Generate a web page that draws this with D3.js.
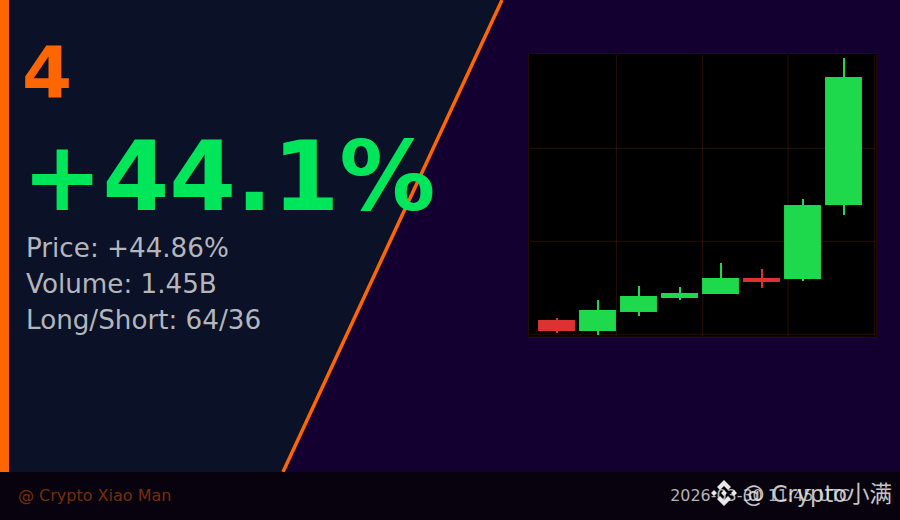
<!DOCTYPE html>
<html>
<head>
<meta charset="utf-8">
<script src="https://cdnjs.cloudflare.com/ajax/libs/d3/7.9.0/d3.min.js"></script>
<style>
  html, body { margin: 0; padding: 0; background: #140030; }
  svg { display: block; font-family: "DejaVu Sans", sans-serif; }
</style>
</head>
<body>
<div id="container"></div>
<script>
// candle values
const candleIndex = [0, 1, 2, 3, 4, 5, 6, 7];
const opens = [103.08, 100.71, 104.8, 107.81, 108.67, 112.11, 111.89, 127.8];
const closes = [100.71, 105.23, 108.24, 108.88, 112.11, 111.25, 127.8, 155.33];
const highs = [103.5, 107.38, 110.39, 110.17, 115.33, 114.04, 129.1, 159.42];
const lows = [100.28, 99.85, 103.94, 107.38, 108.67, 109.96, 111.46, 125.66];
const yTicks = [100, 120, 140];
const xTicks = [1.46, 3.56, 5.65, 7.75];

const rankLabel = "4";
const changeLabel = "+44.1%";
const statLines = ["Price: +44.86%", "Volume: 1.45B", "Long/Short: 64/36"];
const handleLabel = "@ Crypto Xiao Man";
const dateLabel = "2026-03-30 11:45 UTC";
const watermarkLabel = "@ Crypto小满";

const width = 900;
const height = 520;
const orange = "#ff6600";

const svg = d3
  .select("#container")
  .append("svg")
  .attr("width", width)
  .attr("height", height);

// backgrounds
svg.append("rect").attr("width", width).attr("height", height).attr("fill", "#140030");
svg.append("polygon").attr("points", "0,0 502,0 283,472 0,472").attr("fill", "#0b1126");
svg.append("line")
  .attr("x1", 502).attr("y1", 0).attr("x2", 283).attr("y2", 472)
  .attr("stroke", orange).attr("stroke-width", 3.5);
svg.append("rect").attr("width", 9).attr("height", 472).attr("fill", orange);
svg.append("rect").attr("y", 472).attr("width", width).attr("height", 48).attr("fill", "#08020f");

// left text
svg.append("text").attr("x", 22).attr("y", 97)
  .attr("font-size", 72).attr("font-weight", "bold").attr("fill", orange).text(rankLabel);
svg.append("text").attr("x", 22).attr("y", 210)
  .attr("font-size", 96).attr("font-weight", "bold").attr("fill", "#00e65a").text(changeLabel);
svg.selectAll(".stat")
  .data(statLines)
  .enter()
  .append("text")
  .attr("class", "stat")
  .attr("x", 26)
  .attr("y", (d, i) => 257 + i * 36)
  .attr("font-size", 26.2)
  .attr("fill", "#b4b6bc")
  .text((d) => d);

// footer
svg.append("text").attr("x", 18).attr("y", 501)
  .attr("font-size", 16).attr("fill", orange).attr("fill-opacity", 0.45).text(handleLabel);
svg.append("text").attr("x", 850).attr("y", 501).attr("text-anchor", "end")
  .attr("font-size", 15.9).attr("fill", "#b4b4b4").text(dateLabel);

// candles
const xScale = d3.scaleLinear().domain([-0.695, 7.817]).range([528, 877]);
const yScale = d3.scaleLinear().domain([100, 140]).range([334.3, 148.3]);
const bodyWidth = xScale(0.9) - xScale(0);
const chartBottom = 337;

svg.append("rect")
  .attr("x", xScale.range()[0]).attr("y", 53)
  .attr("width", xScale.range()[1] - xScale.range()[0]).attr("height", chartBottom - 53)
  .attr("fill", "#000");

const grid = svg.append("g").attr("stroke", orange).attr("stroke-opacity", 0.15);
grid.selectAll(".gy").data(yTicks).enter().append("line")
  .attr("x1", 530).attr("x2", 875)
  .attr("y1", (d) => yScale(d)).attr("y2", (d) => yScale(d));
grid.selectAll(".gx").data(xTicks).enter().append("line")
  .attr("y1", 55).attr("y2", 336)
  .attr("x1", (d) => xScale(d)).attr("x2", (d) => xScale(d));

svg.append("rect")
  .attr("x", 528.5).attr("y", 53.5).attr("width", 348).attr("height", 283.5)
  .attr("fill", "none").attr("stroke", orange).attr("stroke-opacity", 0.12);

const candleColor = (i) => (closes[i] >= opens[i] ? "#1ed94b" : "#dc3232");

svg.selectAll(".wick").data(candleIndex).enter().append("rect")
  .attr("class", "wick")
  .attr("x", (i) => xScale(i) - 1 + 0.5)
  .attr("y", (i) => yScale(highs[i]))
  .attr("width", 2)
  .attr("height", (i) => yScale(lows[i]) - yScale(highs[i]))
  .attr("fill", candleColor);

svg.selectAll(".body").data(candleIndex).enter().append("rect")
  .attr("class", "body")
  .attr("x", (i) => xScale(i) - bodyWidth / 2)
  .attr("y", (i) => yScale(Math.max(opens[i], closes[i])))
  .attr("width", bodyWidth)
  .attr("height", (i) => Math.abs(yScale(opens[i]) - yScale(closes[i])))
  .attr("fill", candleColor);

// watermark: small diamond mark and handle
const mark = svg.append("g").attr("transform", "translate(724,493)").attr("fill", "#e8e8e8");
mark.append("path")
  .attr("d", "M0,-13 L7,-6 L4,-3 L0,-7 L-4,-3 L-7,-6 Z M0,13 L7,6 L4,3 L0,7 L-4,3 L-7,6 Z M0,-3 L3,0 L0,3 L-3,0 Z M-10,-3 L-7,0 L-10,3 L-13,0 Z M10,-3 L13,0 L10,3 L7,0 Z");
svg.append("text").attr("x", 892).attr("y", 502).attr("text-anchor", "end")
  .attr("font-family", "'DejaVu Sans','Noto Sans CJK SC',sans-serif")
  .attr("font-size", 22.5).attr("fill", "#e8e8e8").attr("fill-opacity", 0.85).text(watermarkLabel);
</script>
</body>
</html>
